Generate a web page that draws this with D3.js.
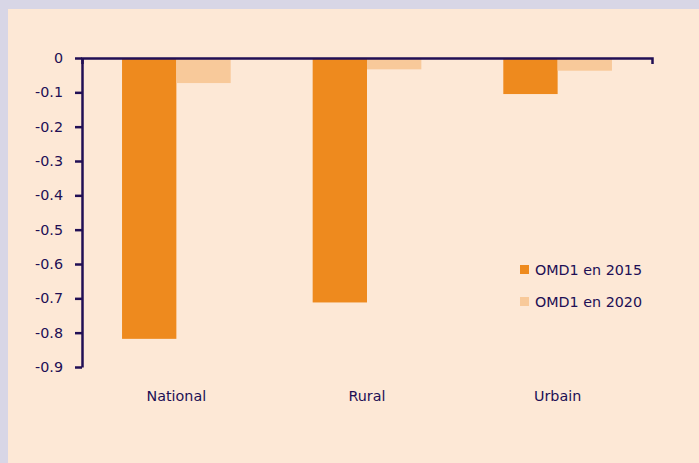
<!DOCTYPE html>
<html>
<head>
<meta charset="utf-8">
<script src="https://d3js.org/d3.v7.min.js"></script>
<style>
  body { margin: 0; background: #d8d6e6; }
  svg { display: block; }
</style>
</head>
<body>
<script>
  // data
  const categories = ["National", "Rural", "Urbain"];
  const seriesNames = ["OMD1 en 2015", "OMD1 en 2020"];
  const values2015 = [-0.818, -0.712, -0.105];
  const values2020 = [-0.073, -0.033, -0.037];
  const yTicks = [0, -0.1, -0.2, -0.3, -0.4, -0.5, -0.6, -0.7, -0.8, -0.9];

  const W = 699, H = 463;
  const ink = "#210f55";
  const colors = ["#ee8a1e", "#f8c99a"];
  const font = "'DejaVu Sans', sans-serif";
  const fs = "14.3px";

  const rows = categories.map((c, i) => ({ cat: c, vals: [values2015[i], values2020[i]] }));

  const svg = d3.select("body").append("svg")
      .attr("width", W)
      .attr("height", H)
      .style("font-family", font);

  // peach plot area inside lavender frame
  svg.append("rect")
      .attr("x", 8).attr("y", 9)
      .attr("width", W - 8).attr("height", H - 9)
      .attr("fill", "#fde8d6");

  const x = d3.scaleBand()
      .domain(categories)
      .range([82, 652])
      .paddingInner(0.43)
      .paddingOuter(0.21);

  const xs = d3.scaleBand()
      .domain(seriesNames)
      .range([0, x.bandwidth()]);

  const y = d3.scaleLinear()
      .domain([0, -0.9])
      .range([58, 367]);

  // bars
  const groups = svg.append("g").selectAll("g")
      .data(rows)
      .enter().append("g")
      .attr("transform", d => `translate(${x(d.cat)},0)`);

  groups.selectAll("rect")
      .data(d => d.vals.map((v, i) => ({ v: v, s: seriesNames[i], i: i })))
      .enter().append("rect")
      .attr("x", d => xs(d.s))
      .attr("y", y(0))
      .attr("width", xs.bandwidth())
      .attr("height", d => y(d.v) - y(0))
      .attr("fill", d => colors[d.i]);

  // y axis
  const yAxis = svg.append("g")
      .attr("transform", "translate(82,0)")
      .call(d3.axisLeft(y)
          .tickValues(yTicks)
          .tickSizeInner(7)
          .tickSizeOuter(0)
          .tickPadding(12)
          .tickFormat(d => d === 0 ? "0" : d.toFixed(1)));

  // top category axis (line at zero)
  const xAxis = svg.append("g")
      .attr("transform", `translate(0,${y(0)})`)
      .call(d3.axisBottom(x).tickSizeInner(0).tickSizeOuter(6).tickFormat(""));

  [yAxis, xAxis].forEach(g => {
    g.selectAll("path, line").attr("stroke", ink).attr("stroke-width", 2.5);
    g.selectAll("text").attr("fill", ink).style("font-size", fs).style("font-family", font);
  });

  // category labels below the chart
  svg.append("g").selectAll("text")
      .data(categories)
      .enter().append("text")
      .attr("x", d => x(d) + x.bandwidth() / 2)
      .attr("y", 401)
      .attr("text-anchor", "middle")
      .attr("fill", ink)
      .style("font-size", fs)
      .text(d => d);

  // legend
  const legend = svg.append("g").selectAll("g")
      .data(seriesNames)
      .enter().append("g")
      .attr("transform", (d, i) => `translate(520,${265 + i * 32})`);

  legend.append("rect")
      .attr("width", 9).attr("height", 9)
      .attr("fill", (d, i) => colors[i]);

  legend.append("text")
      .attr("x", 15)
      .attr("y", 10)
      .attr("fill", ink)
      .style("font-size", fs)
      .text(d => d);
</script>
</body>
</html>
